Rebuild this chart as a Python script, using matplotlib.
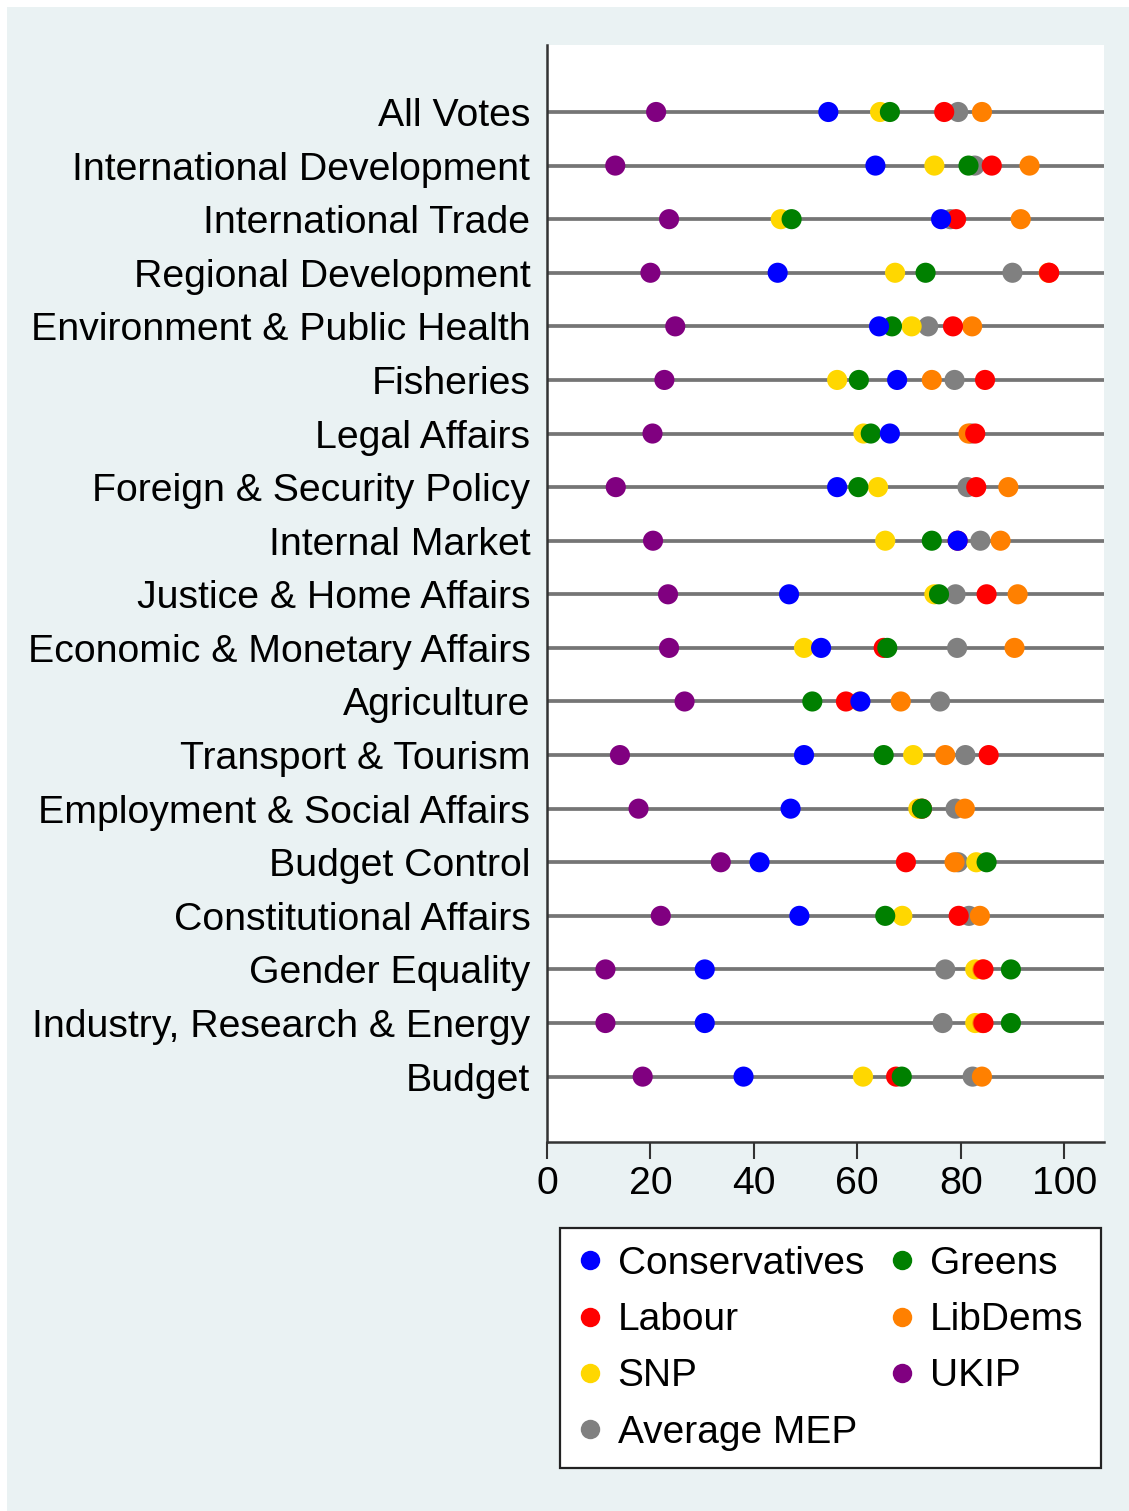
import matplotlib
matplotlib.use("Agg")
import matplotlib.pyplot as plt
from matplotlib.patches import Rectangle
from matplotlib.lines import Line2D

plt.rcParams['font.family'] = ['Liberation Sans', 'DejaVu Sans']

categories = ["All Votes", "International Development", "International Trade",
              "Regional Development", "Environment & Public Health", "Fisheries",
              "Legal Affairs", "Foreign & Security Policy", "Internal Market",
              "Justice & Home Affairs", "Economic & Monetary Affairs", "Agriculture",
              "Transport & Tourism", "Employment & Social Affairs", "Budget Control",
              "Constitutional Affairs", "Gender Equality",
              "Industry, Research & Energy", "Budget"]

conservatives = [54.4, 63.5, 76.2, 44.6, 64.2, 67.7, 66.3, 56.1, 79.4, 46.8,
                 53.0, 60.6, 49.7, 47.1, 41.1, 48.8, 30.5, 30.5, 38.0]
labour = [76.8, 86.0, 79.1, 97.1, 78.5, 84.7, 82.8, 83.0, 79.4, 85.0,
          65.1, 57.8, 85.4, 72.5, 69.4, 79.6, 84.4, 84.4, 67.5]
snp = [64.4, 74.9, 45.2, 67.3, 70.5, 56.1, 61.2, 64.0, 65.4, 74.9,
       49.7, 60.5, 70.8, 71.8, 83.0, 68.7, 82.8, 82.8, 61.1]
greens = [66.3, 81.5, 47.3, 73.2, 66.7, 60.3, 62.6, 60.2, 74.4, 75.8,
          65.8, 51.3, 65.1, 72.5, 85.0, 65.4, 89.7, 89.7, 68.6]
libdems = [84.1, 93.3, 91.6, 97.0, 82.2, 74.4, 81.5, 89.2, 87.7, 91.0,
           90.4, 68.4, 77.0, 80.8, 78.8, 83.7, 84.2, 84.2, 84.1]
ukip = [21.1, 13.2, 23.6, 20.0, 24.8, 22.7, 20.4, 13.3, 20.5, 23.4,
        23.6, 26.6, 14.1, 17.7, 33.6, 22.0, 11.3, 11.3, 18.5]
average_mep = [79.5, 82.7, 78.0, 90.0, 73.7, 78.8, 82.0, 81.3, 83.8, 79.0,
               79.3, 76.0, 80.9, 79.0, 79.5, 81.6, 77.0, 76.5, 82.3]

xticks = [0, 20, 40, 60, 80, 100]

bg = '#EAF2F3'
fig = plt.figure(figsize=(11.29, 15.11), dpi=100, facecolor='white')
fig.patches.append(Rectangle((7 / 1129, 0), 1.0, 1 - 7 / 1511,
                             transform=fig.transFigure, facecolor=bg,
                             edgecolor='none', zorder=-10))

ax = fig.add_axes([547 / 1129, 1 - 1142 / 1511, 557 / 1129, 1097 / 1511])
ax.set_facecolor('white')

rows = list(range(1, len(categories) + 1))
for r in rows:
    ax.axhline(r, color='#757575', lw=2.7, zorder=1)

# series: (values, colour, label, zorder)
series = [
    (average_mep, '#808080', 'Average MEP', 3),
    (snp, '#FFD700', 'SNP', 4),
    (libdems, '#FF8000', 'LibDems', 5),
    (labour, '#FF0000', 'Labour', 6),
    (greens, '#008000', 'Greens', 7),
    (conservatives, '#0000FF', 'Conservatives', 8),
    (ukip, '#800080', 'UKIP', 9),
]
for vals, col, lab, z in series:
    ax.scatter(vals, rows, s=210, color=col, edgecolors='none', zorder=z, label=lab)

ax.set_xlim(0, 107.7)
ax.set_ylim(20.22, -0.25)
ax.set_yticks(rows)
ax.set_yticklabels(categories, fontsize=28.3)
ax.set_xticks(xticks)
ax.set_xticklabels([str(t) for t in xticks], fontsize=28.3)
ax.tick_params(axis='y', length=0, pad=12)
ax.tick_params(axis='x', length=12, width=1.5, color='#333333', pad=5)
for s in ['top', 'right']:
    ax.spines[s].set_visible(False)
for s in ['left', 'bottom']:
    ax.spines[s].set_color('#333333')
    ax.spines[s].set_linewidth(1.8)

cols = {lab: col for _, col, lab, _ in series}
order = ['Conservatives', 'Labour', 'SNP', 'Average MEP', 'Greens', 'LibDems', 'UKIP']
handles = [Line2D([], [], marker='o', ls='none', markersize=14, markeredgewidth=0,
                  color=cols[o]) for o in order]
leg = fig.legend(handles, order, ncol=2, loc='upper left',
                 bbox_to_anchor=(560 / 1129, 1 - 1228 / 1511), borderaxespad=0,
                 fontsize=28, frameon=True, fancybox=False, edgecolor='#222222',
                 framealpha=1, facecolor='white',
                 handlelength=0.6, handletextpad=0.42, columnspacing=0.68,
                 labelspacing=0.52, borderpad=0.46)
leg.get_frame().set_linewidth(1.6)

fig.savefig('out.png', dpi=100, facecolor=fig.get_facecolor())
